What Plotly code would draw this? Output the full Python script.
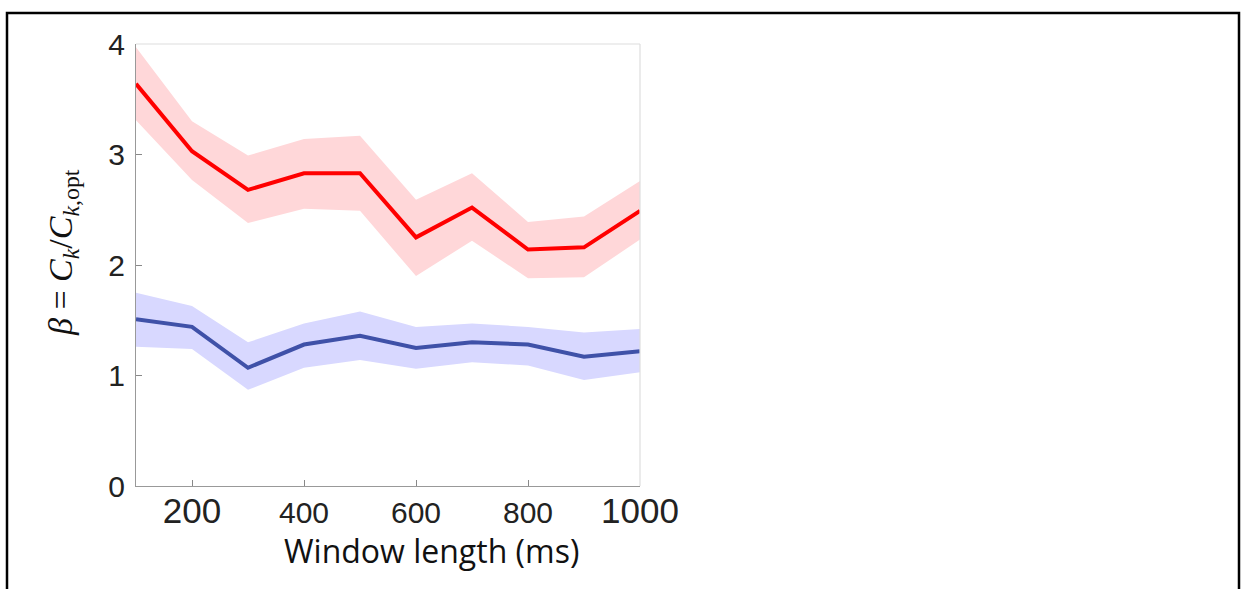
import plotly.graph_objects as go

window_ms = [100, 200, 300, 400, 500, 600, 700, 800, 900, 1000]

red_mean = [3.64, 3.03, 2.68, 2.83, 2.83, 2.25, 2.52, 2.14, 2.16, 2.49]
red_upper = [3.97, 3.30, 2.99, 3.14, 3.17, 2.59, 2.83, 2.39, 2.44, 2.76]
red_lower = [3.31, 2.77, 2.38, 2.51, 2.49, 1.90, 2.22, 1.88, 1.89, 2.23]

blue_mean = [1.51, 1.44, 1.07, 1.28, 1.36, 1.25, 1.30, 1.28, 1.17, 1.22]
blue_upper = [1.75, 1.63, 1.30, 1.47, 1.58, 1.44, 1.47, 1.44, 1.39, 1.42]
blue_lower = [1.26, 1.24, 0.87, 1.07, 1.14, 1.06, 1.12, 1.09, 0.96, 1.03]

x_ticks = [200, 400, 600, 800, 1000]
x_tick_labels = ["200", "400", "600", "800", "1000"]
y_ticks = [0, 1, 2, 3, 4]
y_tick_labels = ["0", "1", "2", "3", "4"]

x_label_sizes = [35, 30, 30, 30, 35]

fig = go.Figure()

def band(upper, lower, color):
    fig.add_trace(go.Scatter(x=window_ms, y=upper, mode="lines",
                             line=dict(width=0, color=color), showlegend=False,
                             hoverinfo="skip"))
    fig.add_trace(go.Scatter(x=window_ms, y=lower, mode="lines",
                             line=dict(width=0, color=color), fill="tonexty",
                             fillcolor=color, showlegend=False, hoverinfo="skip"))

band(red_upper, red_lower, "rgba(255,215,217,1)")
band(blue_upper, blue_lower, "rgba(216,216,255,1)")

fig.add_trace(go.Scatter(x=window_ms, y=red_mean, mode="lines",
                         line=dict(color="#ff0000", width=4), showlegend=False))
fig.add_trace(go.Scatter(x=window_ms, y=blue_mean, mode="lines",
                         line=dict(color="#3f51a8", width=4), showlegend=False))

L, R, T, B = 136, 640, 44, 486
W = R - L
H = B - T

# outer frame
fig.add_shape(type="rect", xref="paper", yref="paper",
              x0=(7 - L) / W, x1=(1239 - L) / W,
              y0=(B - 640) / H, y1=(B - 13) / H,
              line=dict(color="black", width=2.5), fillcolor="rgba(0,0,0,0)",
              layer="above")
# light top/right box lines
fig.add_shape(type="line", xref="paper", yref="paper", x0=0, x1=1, y0=1, y1=1,
              line=dict(color="#dedede", width=1.2), layer="above")
fig.add_shape(type="line", xref="paper", yref="paper", x0=1, x1=1, y0=0, y1=1,
              line=dict(color="#dedede", width=1.2), layer="above")

# axis titles as annotations for precise placement
fig.add_annotation(xref="paper", yref="paper",
                   x=(431 - L) / W, y=(B - 550) / H,
                   text="Window length (ms)", showarrow=False,
                   font=dict(size=32, family="Open Sans, sans-serif", color="#111"),
                   xanchor="center", yanchor="middle")
fig.add_annotation(xref="paper", yref="paper",
                   x=(63 - L) / W, y=(B - 253) / H,
                   text="<i>β</i> = <i>C</i><sub><i>k</i></sub>/<i>C</i><sub><i>k</i>,opt</sub>",
                   showarrow=False, textangle=-90,
                   font=dict(size=34, family="Liberation Serif, serif", color="#111"),
                   xanchor="center", yanchor="middle")

fig.update_layout(
    width=1241, height=589,
    margin=dict(l=L, r=1241 - R, t=T, b=589 - B),
    paper_bgcolor="white", plot_bgcolor="white",
    font=dict(family="Liberation Sans, Arial, sans-serif", color="#222"),
    showlegend=False,
    xaxis=dict(range=[100, 1000], tickvals=x_ticks,
               ticktext=[f"<span style='font-size:{s}px'>{t}</span>"
                         for t, s in zip(x_tick_labels, x_label_sizes)],
               ticks="inside", ticklen=6, tickcolor="#888", showgrid=False,
               zeroline=False, showline=True, linecolor="#999", linewidth=1.2,
               tickfont=dict(size=30, family="Liberation Sans, Arial, sans-serif"),
               ticklabelstandoff=0),
    yaxis=dict(range=[0, 4], tickvals=y_ticks, ticktext=y_tick_labels,
               ticks="inside", ticklen=6, tickcolor="#888", showgrid=False,
               zeroline=False, showline=True, linecolor="#999", linewidth=1.2,
               tickfont=dict(size=30, family="Liberation Sans, Arial, sans-serif"),
               ticklabelstandoff=4),
)

fig.write_html("out.html", config={"displayModeBar": False},
               post_script="document.body.style.margin='0';document.body.style.overflow='hidden';")
